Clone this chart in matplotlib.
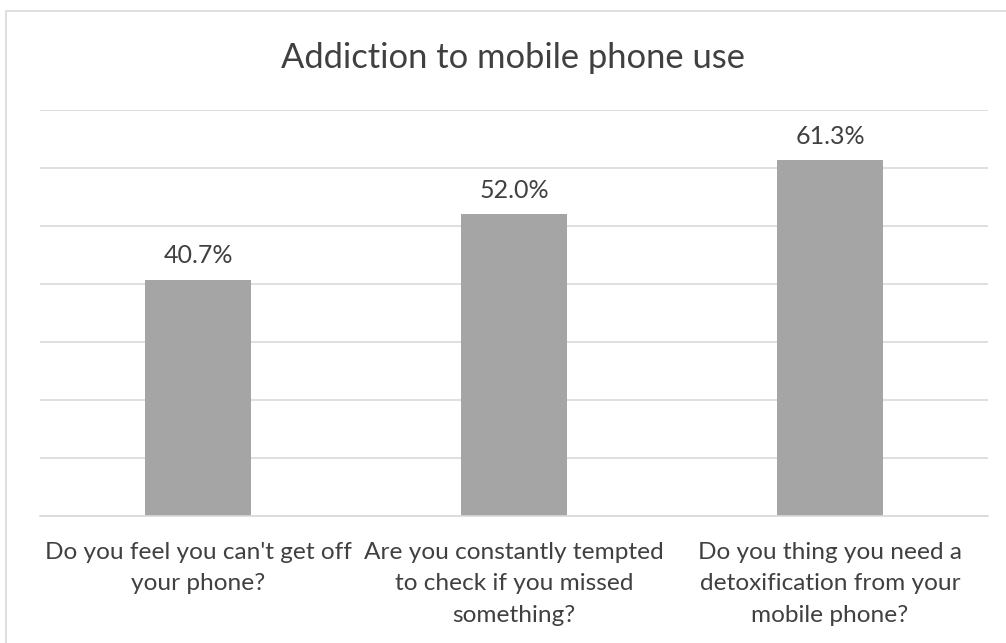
#!/usr/bin/env python3

import matplotlib
matplotlib.use("Agg")
import matplotlib.pyplot as plt
from matplotlib.patches import Rectangle

questions = [
    "Do you feel you can't get off\nyour phone?",
    "Are you constantly tempted\nto check if you missed\nsomething?",
    "Do you thing you need a\ndetoxification from your\nmobile phone?",
]
shares = [40.7, 52.0, 61.3]
labels = ["40.7%", "52.0%", "61.3%"]

plt.rcParams['font.family'] = ['Lato', 'DejaVu Sans']

fig = plt.figure(figsize=(10.06, 6.43), dpi=100)
ax = fig.add_axes([40/1006, 1 - 516/643, 948/1006, 406/643])

# chart area border, like the spreadsheet frame
fig.patches.append(Rectangle((6/1006, -0.01), 1.01, 1 - 11/643 + 0.01,
                             transform=fig.transFigure, fill=False,
                             edgecolor='#d9d9d9', linewidth=1.2))

x = range(len(shares))
ax.bar(x, shares, width=0.335, color='#a5a5a5', zorder=2)
for i, v in enumerate(shares):
    ax.annotate(labels[i], (i, v), xytext=(0, 9), textcoords='offset points',
                ha='center', va='bottom', fontsize=18, color='#404040')

ax.set_xlim(-0.5, 2.5)
ax.set_ylim(0, 70)
ax.set_yticks(range(0, 71, 10))
ax.yaxis.grid(True, color='#d9d9d9', linewidth=1.2, zorder=0)
ax.tick_params(axis='y', left=False, labelleft=False)
ax.tick_params(axis='x', bottom=False, pad=15, labelsize=17.6, labelcolor='#404040')
ax.set_xticks(list(x))
ax.set_xticklabels(questions)
for t in ax.get_xticklabels():
    t.set_linespacing(1.63)
for s in ['top', 'right', 'left']:
    ax.spines[s].set_visible(False)
ax.spines['bottom'].set_color('#d9d9d9')
ax.spines['bottom'].set_linewidth(1.2)

fig.text(513/1006, 1 - 58/643, "Addiction to mobile phone use", ha='center',
         va='center', fontsize=24.8, color='#404040')

fig.savefig("out.png", dpi=100)
